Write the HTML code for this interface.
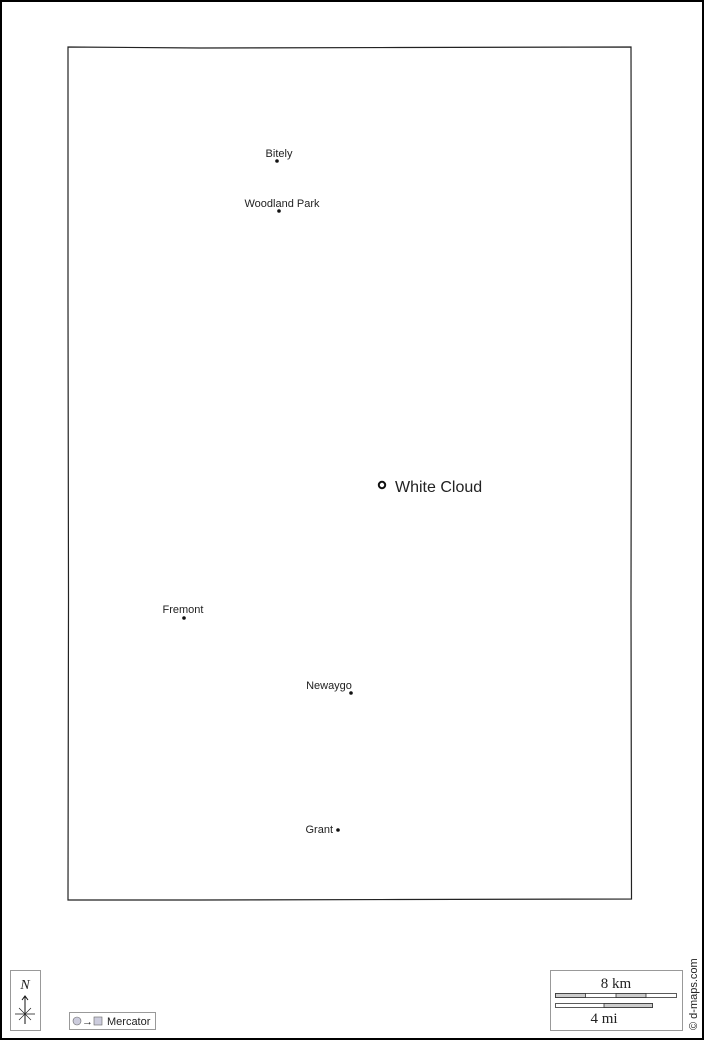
<!DOCTYPE html>
<html><head><style>
html,body{margin:0;padding:0;background:#fff;}
svg{display:block;}
text{font-family:"Liberation Sans",sans-serif;fill:#222;}
text.serif{font-family:"Liberation Serif",serif;}
</style></head><body>
<svg width="704" height="1040" viewBox="0 0 704 1040" xmlns="http://www.w3.org/2000/svg">
<rect x="1" y="1" width="702" height="1038" fill="#fff" stroke="#000" stroke-width="2"/>
<path d="M68,47 L200,48 L400,47.5 L631,47 L631.5,300 L631,600 L631.5,899 L400,899.5 L200,900 L68,900 L68.5,600 L68,300 Z" fill="#fff" stroke="#222" stroke-width="1.2"/>
<circle cx="277" cy="161" r="1.8" fill="#111"/><text x="279" y="157" font-size="11" text-anchor="middle">Bitely</text>
<circle cx="279" cy="211" r="1.8" fill="#111"/><text x="282" y="207" font-size="11" text-anchor="middle">Woodland Park</text>
<circle cx="382" cy="485" r="3.2" fill="none" stroke="#111" stroke-width="2"/><text x="395" y="492" font-size="16">White Cloud</text>
<circle cx="184" cy="618" r="1.8" fill="#111"/><text x="183" y="613" font-size="11" text-anchor="middle">Fremont</text>
<circle cx="351" cy="693" r="1.8" fill="#111"/><text x="329" y="689" font-size="11" text-anchor="middle">Newaygo</text>
<circle cx="338" cy="830" r="1.8" fill="#111"/><text x="333" y="833" font-size="11" text-anchor="end">Grant</text>
<rect x="10.5" y="970.5" width="30" height="60" fill="#fff" stroke="#999"/>
<text class="serif" x="25" y="989" font-size="14" font-style="italic" text-anchor="middle">N</text>
<line x1="25" y1="997" x2="25" y2="1024" stroke="#111"/>
<path d="M22,1000 L25,996 L28,1000" fill="none" stroke="#111"/>
<line x1="15" y1="1014" x2="35" y2="1014" stroke="#888" stroke-width="1.5"/>
<line x1="19" y1="1008" x2="31" y2="1020" stroke="#111" stroke-width="0.6"/>
<line x1="31" y1="1008" x2="19" y2="1020" stroke="#111" stroke-width="0.6"/>
<rect x="69.5" y="1012.5" width="86" height="17" fill="#fff" stroke="#999"/>
<circle cx="77" cy="1021" r="4" fill="#ccd" stroke="#666" stroke-width="0.6"/>
<text x="82" y="1025" font-size="11">→</text>
<rect x="94" y="1017" width="8" height="8" fill="#ccd" stroke="#666" stroke-width="0.6"/>
<text x="107" y="1025" font-size="11">Mercator</text>
<rect x="550.5" y="970.5" width="132" height="60" fill="#fff" stroke="#999"/>
<text class="serif" x="616" y="988" font-size="15" text-anchor="middle">8 km</text>
<rect x="555.5" y="993.5" width="121" height="4" fill="#fff" stroke="#333" stroke-width="0.8"/>
<rect x="555.5" y="993.5" width="30" height="4" fill="#ccc" stroke="#333" stroke-width="0.8"/>
<rect x="616" y="993.5" width="30" height="4" fill="#ccc" stroke="#333" stroke-width="0.8"/>
<rect x="555.5" y="1003.5" width="97" height="4" fill="#fff" stroke="#333" stroke-width="0.8"/>
<rect x="604" y="1003.5" width="48.5" height="4" fill="#ccc" stroke="#333" stroke-width="0.8"/>
<text class="serif" x="604" y="1023" font-size="15" text-anchor="middle">4 mi</text>
<text transform="translate(697,1030) rotate(-90)" font-size="11">© d-maps.com</text>
</svg>
</body></html>
